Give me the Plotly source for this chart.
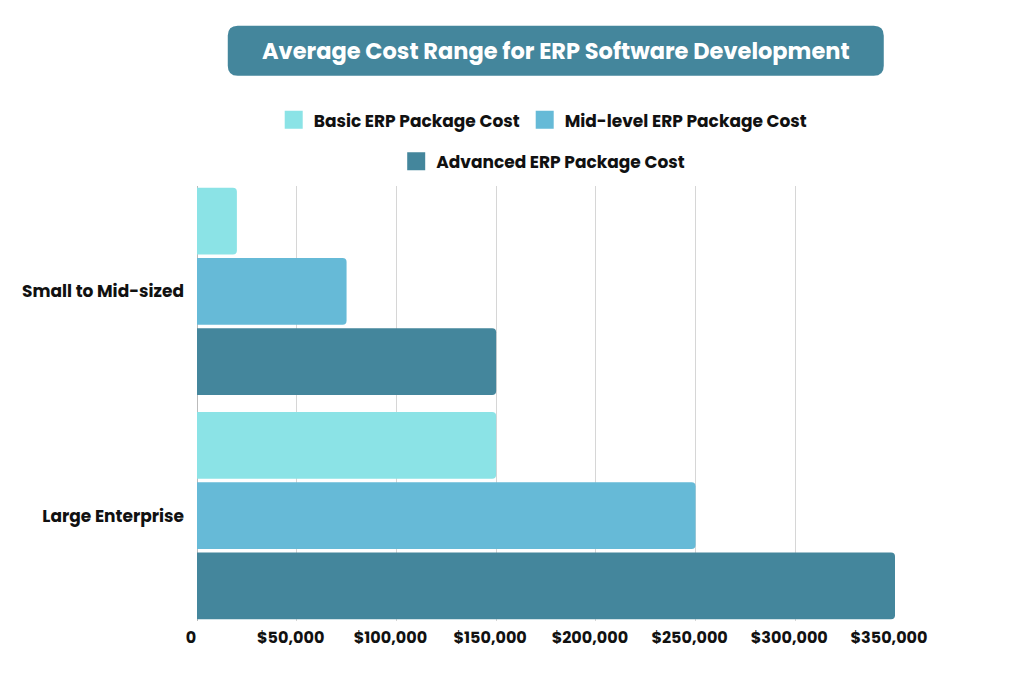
import plotly.graph_objects as go

categories = ["Small to Mid-sized", "Large Enterprise"]
series_names = ["Basic ERP Package Cost", "Mid-level ERP Package Cost", "Advanced ERP Package Cost"]
basic = [20000, 150000]
mid_level = [75000, 250000]
advanced = [150000, 350000]
tick_vals = [0, 50000, 100000, 150000, 200000, 250000, 300000, 350000]
tick_text = ["0", "$50,000", "$100,000", "$150,000", "$200,000", "$250,000", "$300,000", "$350,000"]
title_text = "Average Cost Range for ERP Software Development"

colors = ["#8BE3E6", "#66BAD7", "#44869C"]
FONT = "Poppins, Open Sans, sans-serif"

fig = go.Figure()
for name, vals, col in zip(series_names, [basic, mid_level, advanced], colors):
    fig.add_trace(go.Bar(
        y=categories, x=vals, name=name, orientation="h",
        marker=dict(color=col, line=dict(width=0)),
        showlegend=False, hoverinfo="x+name",
    ))

# legend proxies (larger square symbols)
for i, (name, col) in enumerate(zip(series_names, colors)):
    fig.add_trace(go.Scatter(
        x=[None], y=[None], mode="markers", name=name,
        marker=dict(symbol="square", size=16, color=col, line=dict(color=col, width=2)),
        legend="legend" if i < 2 else "legend2",
    ))

fig.update_layout(
    width=1024, height=675,
    margin=dict(l=189, r=137, t=178, b=62),
    paper_bgcolor="white", plot_bgcolor="white",
    barmode="group", bargap=0.06, bargroupgap=0.05, barcornerradius=4,
    font=dict(family=FONT, color="#111111"),
    legend=dict(
        orientation="h", x=0.496, xanchor="center", y=1.151, yanchor="middle",
        font=dict(family=FONT, size=17, color="#111111", weight="bold"),
        itemwidth=30, bgcolor="rgba(0,0,0,0)", tracegroupgap=0,
    ),
    legend2=dict(
        orientation="h", x=0.496, xanchor="center", y=1.056, yanchor="middle",
        font=dict(family=FONT, size=17, color="#111111", weight="bold"),
        itemwidth=30, bgcolor="rgba(0,0,0,0)",
    ),
    xaxis=dict(
        range=[0, 350000], tickvals=tick_vals, ticktext=tick_text,
        showgrid=True, gridcolor="#D6D6D6", gridwidth=1,
        zeroline=True, zerolinecolor="#BBBBBB", zerolinewidth=1,
        showline=False, ticks="", ticklabelstandoff=5, ticklabelshift=-6,
        tickfont=dict(family=FONT, size=16, color="#111111", weight="bold"),
    ),
    yaxis=dict(
        categoryorder="array", categoryarray=categories,
        range=[1.47, -0.47], showgrid=False, zeroline=False,
        ticks="", ticklabelstandoff=12,
        tickfont=dict(family=FONT, size=17, color="#111111", weight="bold"),
    ),
)

# rounded title box
w, h, r = 328, 25, 10
path = (f"M{-w + r},{-h} L{w - r},{-h} Q{w},{-h} {w},{-h + r} L{w},{h - r} Q{w},{h} {w - r},{h} "
        f"L{-w + r},{h} Q{-w},{h} {-w},{h - r} L{-w},{-h + r} Q{-w},{-h} {-w + r},{-h} Z")
fig.add_shape(type="path", xref="paper", yref="paper", xsizemode="pixel", ysizemode="pixel",
              xanchor=0.514, yanchor=1.311, path=path,
              fillcolor="#44869C", line=dict(width=0), layer="above")
fig.add_annotation(x=0.514, y=1.311, xref="paper", yref="paper", text=title_text,
                   showarrow=False, xanchor="center", yanchor="middle",
                   font=dict(family=FONT, size=22.5, color="white", weight="bold"))

fig.write_html("out.html")
